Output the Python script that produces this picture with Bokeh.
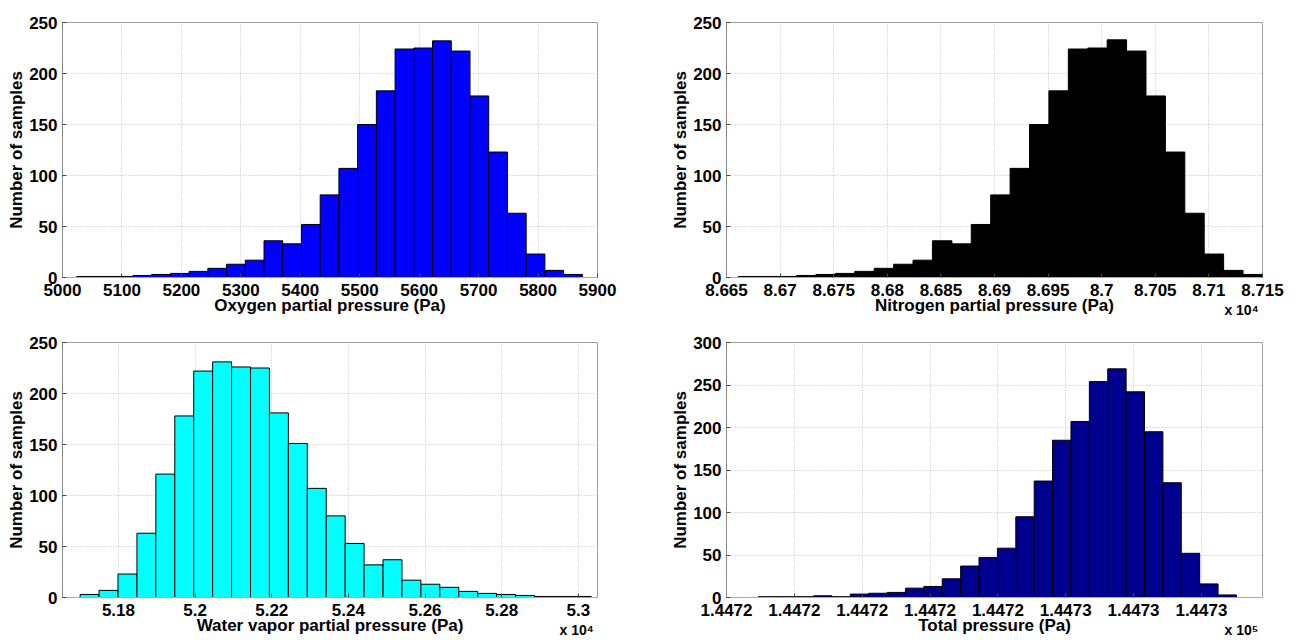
from bokeh.plotting import figure
from bokeh.models import ColumnDataSource, Range1d, FixedTicker, LinearAxis
from bokeh.layouts import gridplot
from bokeh.embed import file_html
from bokeh.resources import INLINE

FONT = "Liberation Sans"

# ---------------- data ----------------
# Oxygen partial pressure histogram
o2_counts = [1, 1, 1, 2, 3, 4, 6, 9, 13, 17, 36, 33, 52, 81, 107, 150, 183,
             224, 225, 232, 222, 178, 123, 63, 23, 7, 3]
o2_bin_start = 5024.0
o2_bin_width = 31.5
o2_xlim = [5000.0, 5900.0]
o2_ticks = [5000.0, 5100.0, 5200.0, 5300.0, 5400.0, 5500.0, 5600.0, 5700.0, 5800.0, 5900.0]
o2_tick_labels = ["5000", "5100", "5200", "5300", "5400", "5500", "5600", "5700", "5800", "5900"]

# Nitrogen partial pressure histogram
n2_counts = [1, 1, 1, 2, 3, 4, 6, 9, 13, 17, 36, 33, 52, 81, 107, 150, 183,
             224, 225, 233, 222, 178, 123, 63, 23, 7, 3]
n2_bin_start = 86661.0
n2_bin_width = 18.11
n2_xlim = [86650.0, 87150.0]
n2_ticks = [86650.0, 86700.0, 86750.0, 86800.0, 86850.0, 86900.0, 86950.0,
            87000.0, 87050.0, 87100.0, 87150.0]
n2_tick_labels = ["8.665", "8.67", "8.675", "8.68", "8.685", "8.69", "8.695",
                  "8.7", "8.705", "8.71", "8.715"]

# Water vapor partial pressure histogram
h2o_counts = [3, 7, 23, 63, 121, 178, 222, 231, 226, 225, 181, 151, 107, 80,
              53, 32, 37, 17, 13, 10, 6, 4, 3, 2, 1, 1, 1]
h2o_bin_start = 51700.0
h2o_bin_width = 49.4
h2o_xlim = [51654.0, 53050.0]
h2o_ticks = [51800.0, 52000.0, 52200.0, 52400.0, 52600.0, 52800.0, 53000.0]
h2o_tick_labels = ["5.18", "5.2", "5.22", "5.24", "5.26", "5.28", "5.3"]

# Total pressure histogram
tot_counts = [1, 1, 1, 2, 1, 4, 5, 6, 11, 13, 22, 37, 47, 58, 95, 137, 185,
              207, 254, 269, 242, 195, 135, 52, 16, 3]
tot_bin_start = 144724.547
tot_bin_width = 0.0271
tot_xlim = [144724.5, 144725.29]
tot_ticks = [144724.5, 144724.6, 144724.7, 144724.8, 144724.9, 144725.0, 144725.1, 144725.2]
tot_tick_labels = ["1.4472", "1.4472", "1.4472", "1.4472", "1.4472", "1.4473", "1.4473", "1.4473"]

y_ticks_250 = [0, 50, 100, 150, 200, 250]
y_ticks_300 = [0, 50, 100, 150, 200, 250, 300]

y_label = "Number of samples"


def style_text(ax, size):
    ax.major_label_text_font = FONT
    ax.major_label_text_font_style = "bold"
    ax.major_label_text_color = "#000000"
    ax.major_label_text_font_size = size
    ax.axis_label_text_font = FONT
    ax.axis_label_text_font_size = "17px"
    ax.axis_label_text_font_style = "bold"
    ax.axis_label_text_color = "#000000"


def text_axis(p, x, text, size, standoff):
    """An extra bottom axis whose single tick label carries a text."""
    ax = LinearAxis(ticker=FixedTicker(ticks=[x]), major_label_overrides={x: text})
    style_text(ax, size)
    ax.major_label_standoff = standoff
    ax.major_tick_line_color = None
    ax.minor_tick_line_color = None
    ax.axis_line_color = None
    p.add_layout(ax, "below")


def panel(counts, start, width, xlim, xticks, xlabels, yticks, color, xtitle,
          exponent, fw, fh, bl, br, bt, bb):
    lefts = [start + i * width for i in range(len(counts))]
    rights = [start + (i + 1) * width for i in range(len(counts))]
    src = ColumnDataSource(dict(left=lefts, right=rights, top=counts,
                                bottom=[0] * len(counts)))
    p = figure(width=fw, height=fh, output_backend="svg", toolbar_location=None,
               x_range=Range1d(xlim[0], xlim[1]),
               y_range=Range1d(yticks[0], yticks[-1]),
               min_border_left=bl, min_border_right=br,
               min_border_top=bt, min_border_bottom=bb)
    p.quad(left="left", right="right", top="top", bottom="bottom", source=src,
           fill_color=color, line_color="#000000", line_width=1)

    xa = p.xaxis[0]
    ya = p.yaxis[0]
    xa.ticker = FixedTicker(ticks=xticks)
    xa.major_label_overrides = dict(zip(xticks, xlabels))
    ya.ticker = FixedTicker(ticks=yticks)
    ya.major_label_overrides = {t: str(t) for t in yticks}

    for ax in (xa, ya):
        style_text(ax, "17px")
        ax.major_tick_in = 4
        ax.major_tick_out = 0
        ax.major_tick_line_color = "#444444"
        ax.minor_tick_line_color = None
    xa.major_label_standoff = 6
    ya.major_label_standoff = 5
    xa.axis_line_color = "#aaaaaa"
    ya.axis_line_color = "#888888"

    ya.axis_label = y_label
    ya.axis_label_standoff = 0

    p.xgrid.grid_line_color = "#bdbdbd"
    p.ygrid.grid_line_color = "#bdbdbd"
    p.xgrid.grid_line_dash = "1 2"
    p.ygrid.grid_line_dash = "1 2"
    p.outline_line_color = "#a0a0a0"
    p.background_fill_color = "#ffffff"
    p.border_fill_color = "#ffffff"

    # "x 10^n" multiplier at the lower right, then the x-axis title pulled up beside it
    frame_w = fw - bl - br
    per_px_x = (xlim[1] - xlim[0]) / frame_w
    if exponent is not None:
        text_axis(p, xlim[1] - 21.0 * per_px_x, "x 10" + exponent, "14px", -3)
    else:
        text_axis(p, (xlim[0] + xlim[1]) / 2, " ", "14px", -3)
    text_axis(p, (xlim[0] + xlim[1]) / 2, xtitle, "17px", -31)
    return p


p1 = panel(o2_counts, o2_bin_start, o2_bin_width, o2_xlim, o2_ticks, o2_tick_labels,
           y_ticks_250, "#0000FF", "Oxygen partial pressure (Pa)", None,
           660, 320, 62, 63, 22, 42)
p2 = panel(n2_counts, n2_bin_start, n2_bin_width, n2_xlim, n2_ticks, n2_tick_labels,
           y_ticks_250, "#000000", "Nitrogen partial pressure (Pa)", "\u2074",
           636, 320, 66, 34, 22, 42)
p3 = panel(h2o_counts, h2o_bin_start, h2o_bin_width, h2o_xlim, h2o_ticks, h2o_tick_labels,
           y_ticks_250, "#00FFFF", "Water vapor partial pressure (Pa)", "\u2074",
           660, 320, 61, 62, 22, 42)
p4 = panel(tot_counts, tot_bin_start, tot_bin_width, tot_xlim, tot_ticks, tot_tick_labels,
           y_ticks_300, "#00008F", "Total pressure (Pa)", "\u2075",
           636, 320, 66, 34, 22, 42)

grid = gridplot([[p1, p2], [p3, p4]], toolbar_location=None)

open("out.html", "w").write(file_html(grid, INLINE))
